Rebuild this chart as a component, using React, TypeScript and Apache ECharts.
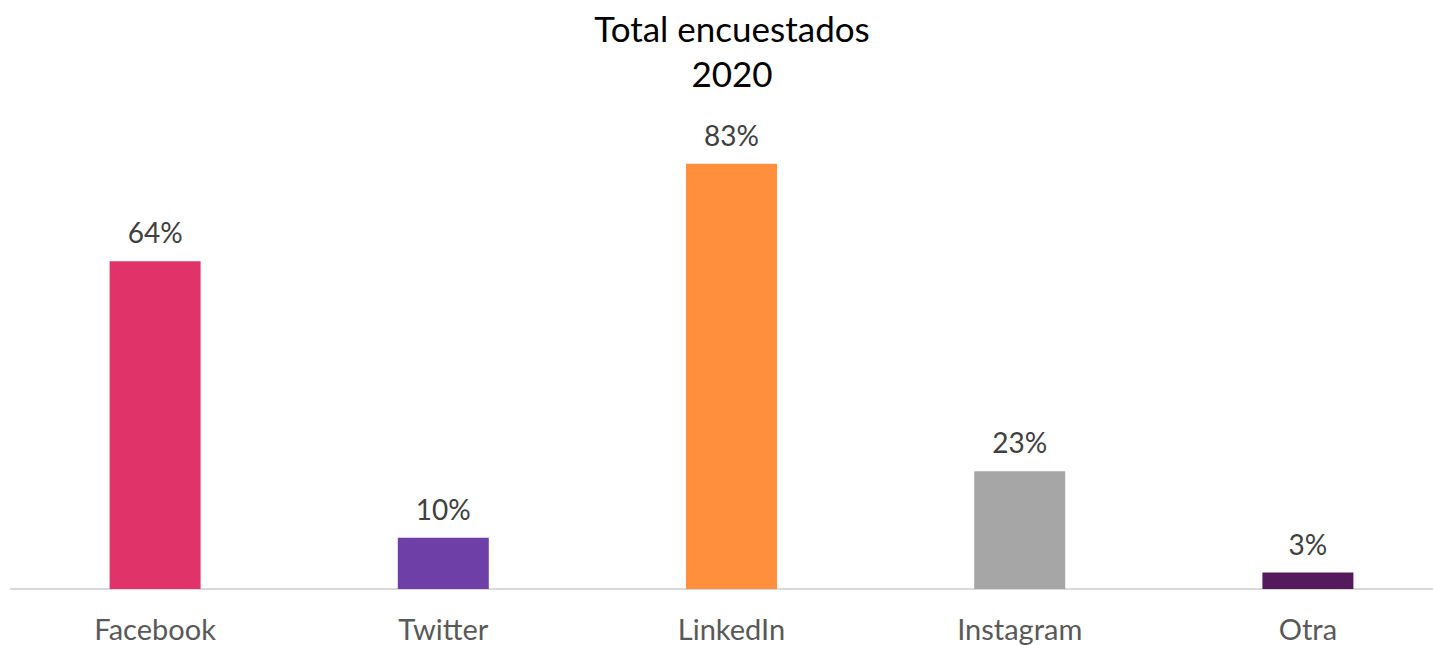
import React, { useEffect, useRef } from "react";
import * as echarts from "echarts";

const categories = ["Facebook", "Twitter", "LinkedIn", "Instagram", "Otra"];
const values = [0.64, 0.1, 0.83, 0.23, 0.032];
const colors = ["#E0336A", "#6E3FA7", "#FF8F3D", "#A6A6A6", "#551A5B"];
const titleText = "Total encuestados\n2020";

const FONT = "Lato, 'Open Sans', sans-serif";

export default function App() {
  const ref = useRef<HTMLDivElement>(null);
  useEffect(() => {
    if (!ref.current) return;
    const chart = echarts.init(ref.current, undefined, { renderer: "svg" });
    chart.setOption({
      animation: false,
      backgroundColor: "#ffffff",
      title: {
        text: titleText,
        left: "center",
        top: 0,
        textStyle: {
          fontFamily: FONT,
          fontSize: 35,
          lineHeight: 45,
          fontWeight: "normal",
          color: "#000000",
        },
      },
      grid: { left: 11, right: 12, top: 128, bottom: 56 },
      xAxis: {
        type: "category",
        data: categories,
        axisLine: { lineStyle: { color: "#D9D9D9", width: 2 } },
        axisTick: { show: false },
        axisLabel: {
          fontFamily: FONT,
          fontSize: 29,
          color: "#595959",
          margin: 25,
        },
      },
      yAxis: {
        type: "value",
        min: 0,
        max: 0.9,
        show: false,
        splitLine: { show: false },
      },
      series: [
        {
          type: "bar",
          barWidth: 91,
          data: values.map((v, i) => ({ value: v, itemStyle: { color: colors[i] } })),
          label: {
            show: true,
            position: "top",
            distance: 15,
            fontFamily: FONT,
            fontSize: 28,
            color: "#404040",
            formatter: (p: any) => Math.round(p.value * 100) + "%",
          },
        },
      ],
    });
    return () => chart.dispose();
  }, []);
  return (
    <div
      ref={ref}
      style={{ position: "fixed", left: 0, top: 0, width: 1464, height: 645 }}
    />
  );
}
